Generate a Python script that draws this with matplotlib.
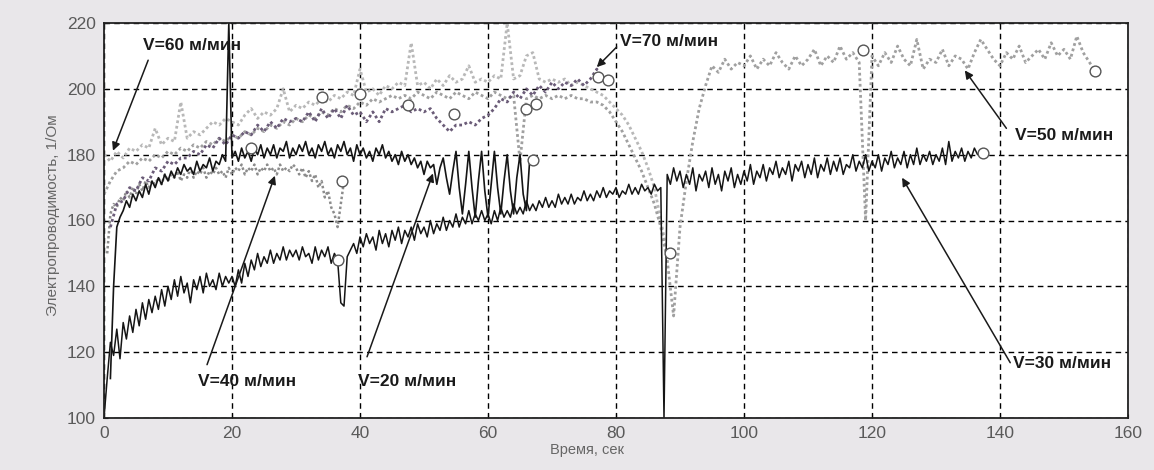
import numpy as np
import matplotlib
matplotlib.use("Agg")
import matplotlib.pyplot as plt

plt.rcParams['font.family'] = ['Liberation Sans', 'DejaVu Sans']

# V=30 м/мин, шаг 0.5 с от t=0
v30 = [100, 112, 123, 119, 127, 118, 129, 124, 131, 126, 133, 128, 135, 130, 136, 132, 137, 133, 139, 134,
       140, 136, 142, 137, 143, 138, 141, 135, 142, 139, 143, 138, 144, 140, 142, 139, 144, 140, 143, 141,
       143, 140, 145, 141, 147, 143, 148, 145, 150, 146, 149, 147, 151, 147, 150, 148, 152, 148, 151, 149,
       151, 148, 152, 149, 150, 147, 152, 148, 151, 149, 152, 147, 150, 148, 135, 134, 149, 151, 153, 150,
       155, 152, 156, 153, 155, 151, 157, 153, 156, 152, 157, 154, 158, 153, 157, 155, 158, 154, 159, 156,
       158, 155, 160, 156, 159, 157, 161, 157, 160, 158, 162, 158, 161, 159, 163, 159, 162, 160, 163, 160,
       162, 159, 163, 160, 164, 161, 163, 161, 165, 162, 164, 162, 166, 163, 165, 163, 166, 164, 167, 164,
       166, 164, 168, 165, 167, 165, 168, 165, 167, 166, 169, 166, 168, 166, 169, 167, 170, 167, 169, 168,
       170, 167, 169, 168, 171, 168, 170, 168, 171, 169, 170, 168, 171, 169, 170, 100, 174, 171, 176, 172,
       175, 170, 174, 171, 176, 169, 174, 172, 175, 170, 176, 171, 174, 169, 175, 172, 176, 170, 174, 171,
       175, 172, 177, 171, 175, 173, 177, 172, 176, 174, 178, 173, 176, 174, 178, 172, 177, 175, 178, 173,
       177, 174, 179, 173, 177, 175, 179, 174, 178, 175, 179, 174, 177, 176, 180, 175, 178, 176, 180, 175,
       178, 176, 180, 175, 179, 177, 181, 176, 179, 177, 181, 176, 180, 177, 182, 177, 180, 178, 181, 177,
       180, 178, 182, 177, 184, 178, 181, 179, 182, 178, 181, 179, 182, 180, 181]

# V=20 м/мин, шаг 0.5 с от t=1
v20 = [112, 140, 158, 161, 163, 166, 164, 168, 166, 169,
       167, 171, 168, 172, 170, 173, 171, 174, 172, 175, 173, 176, 174, 177, 175, 176, 174, 178, 175, 177,
       176, 179, 175, 178, 177, 180, 178, 220, 179, 181, 178, 182, 179, 181, 178, 182, 180, 183, 179, 182,
       180, 183, 179, 182, 181, 184, 179, 182, 180, 183, 181, 184, 180, 182, 179, 183, 181, 184, 180, 182,
       179, 183, 181, 184, 180, 182, 178, 183, 180, 182, 179, 181, 178, 182, 180, 183, 179, 181, 178, 180,
       177, 181, 178, 180, 177, 179, 176, 178, 174, 178, 176, 177, 171, 176, 179, 173, 168, 175, 181, 170,
       162, 171, 181, 170, 161, 172, 181, 169, 161, 171, 181, 170, 162, 172, 180, 169, 162, 173, 180, 168,
       163, 178]

# V=40 м/мин, шаг 0.5 с от t=0.5
v40 = [150, 162, 165, 164, 167, 166, 169, 167, 170, 168, 171, 169, 172, 170, 172, 171, 173, 171, 174,
       172, 174, 173, 175, 172, 174, 173, 176, 173, 175, 174, 176, 173, 175, 174, 176, 174, 175, 173, 176,
       174, 176, 175, 177, 174, 176, 175, 177, 174, 176, 175, 177, 175, 176, 174, 177, 175, 176, 175, 177,
       176, 174, 176, 173, 175, 172, 174, 170, 172, 167, 169, 164, 162, 158, 165, 172]

# V=70 м/мин, шаг 1 с от t=1
v70 = [158, 165, 166, 170, 169, 173, 172, 176, 175, 178,
       177, 179, 179, 181, 180, 183, 182, 185, 183, 186,
       185, 187, 186, 189, 187, 190, 188, 191, 190, 191,
       190, 193, 190, 194, 191, 194, 191, 195, 192, 193,
       190, 193, 190, 194, 193, 194, 195, 193, 194, 193,
       194, 191, 189, 187, 189, 189, 190, 189, 191, 192,
       194, 197, 196, 199, 197, 200, 198, 201, 199, 202,
       200, 202, 201, 203, 201, 203, 206, 203]

# V=60 м/мин, шаг 1 с от t=0
v60 = [180, 178, 181, 179, 182, 181, 183, 182, 188, 183,
       185, 184, 196, 185, 187, 186, 188, 190, 189, 191,
       190, 189, 192, 194, 191, 193, 192, 194, 200, 193,
       195, 194, 196, 195, 197, 196, 198, 197, 199, 198,
       206, 199, 200, 198, 201, 200, 202, 201, 214, 201,
       202, 200, 203, 201, 204, 202, 203, 207, 202, 203,
       202, 204, 203, 220, 203, 204, 210, 211, 203, 202,
       203, 202, 203, 201, 202, 201, 200, 199, 198, 196,
       194, 192, 189, 185, 181, 176, 170, 160, 150]

# V=50 м/мин, шаг 1 с от t=0
v50 = [168, 172, 175, 176, 178, 177, 179, 178, 180, 179,
       181, 180, 182, 181, 183, 182, 184, 183, 185, 184,
       186, 185, 187, 186, 188, 187, 189, 188, 190, 189,
       191, 190, 192, 191, 193, 192, 194, 193, 195, 194,
       196, 195, 197, 196, 197, 198, 197, 198, 197, 199,
       198, 197, 199, 198, 197, 199, 198, 197, 199, 198,
       197, 199, 198, 197, 198, 178, 197, 198, 197, 198,
       197, 198, 197, 198, 197, 197, 196, 196, 195, 193,
       190, 187, 183, 179, 175, 170, 165, 158, 148, 131,
       158, 172, 184, 194, 201, 207, 205, 209, 206, 208,
       207, 210, 206, 209, 207, 211, 208, 206, 210, 207,
       209, 212, 207, 210, 208, 213, 209, 211, 208, 160,
       210, 207, 211, 208, 213, 209, 207, 215, 206, 209,
       208, 212, 207, 210, 209, 206, 211, 215, 212, 209,
       207, 211, 209, 213, 208, 210, 212, 209, 214, 210,
       212, 209, 216, 211, 208, 205]

t30 = 0.5 * np.arange(len(v30))
t20 = 1.0 + 0.5 * np.arange(len(v20))
t40 = 0.5 + 0.5 * np.arange(len(v40))
t70 = 1.0 + np.arange(len(v70))
t60 = np.arange(len(v60))
t50 = np.arange(len(v50))

# кружки-метки на кривых
circ_t = [23, 34, 37.2, 36.6, 40, 47.5, 54.7, 66, 67.5, 67, 77.2, 78.8, 88.4, 118.6, 137.4, 154.8]
circ_v = [182, 197.4, 172, 148, 198.5, 195, 192.5, 194, 195.5, 178.5, 203.5, 202.6, 150, 211.8, 180.6, 205.5]

# подписи: текст, положение текста, начало и конец стрелки
labels = ["V=60 м/мин", "V=70 м/мин", "V=50 м/мин", "V=30 м/мин", "V=40 м/мин", "V=20 м/мин"]
text_xy = [(6.1, 213.3), (80.6, 214.3), (142.3, 185.8), (142.0, 116.5), (14.7, 111.0), (39.7, 111.0)]
arr_from = [(6.9, 208.7), (80.1, 212.7), (141.0, 188.0), (141.6, 116.8), (16.1, 116.2), (41.1, 118.6)]
arr_to = [(1.4, 181.2), (77.0, 206.6), (134.5, 205.6), (124.7, 173.0), (26.7, 173.6), (51.4, 174.3)]

fig = plt.figure(figsize=(11.54, 4.70), dpi=100, facecolor="#e9e7ea")
ax = fig.add_axes([104/1154, 1 - 418/470, 1024/1154, 395/470])
ax.set_facecolor("white")

dots = (0, (1, 1))
ax.plot(t60, v60, color="#b8b8b8", lw=2.0, ls=dots)
ax.plot(t50, v50, color="#a0a0a0", lw=2.0, ls=dots)
ax.plot(t40, v40, color="#8c8c8c", lw=1.8, ls=dots)
ax.plot(t70, v70, color="#6b5c78", lw=2.0, ls=dots)
ax.plot(t30, v30, color="#151515", lw=1.1)
ax.plot(t20, v20, color="#151515", lw=1.2)
ax.scatter(circ_t, circ_v, s=60, facecolors="white", edgecolors="#555555", linewidths=1.0, zorder=5)

for lab, txy, a0, a1 in zip(labels, text_xy, arr_from, arr_to):
    ax.text(txy[0], txy[1], lab, fontsize=12.5, fontweight="bold", color="#1a1a1a",
            ha="left", va="center", zorder=6)
    ax.annotate("", xy=a1, xytext=a0,
                arrowprops=dict(arrowstyle="-|>", color="#1a1a1a", lw=1.1,
                                mutation_scale=12, shrinkA=0, shrinkB=0), zorder=6)

ax.set_xlim(0, 160)
ax.set_ylim(100, 220)
ax.set_xticks(np.arange(0, 161, 20))
ax.set_yticks(np.arange(100, 221, 20))
ax.grid(True, color="black", ls=(0, (4, 3)), lw=1.0)
ax.tick_params(direction="in", length=3, labelsize=12.5, labelcolor="#5a5a5a", pad=6)
for s in ax.spines.values():
    s.set_linewidth(1.3)
    s.set_color("#222222")

ax.set_xlabel("Время, сек", fontsize=10.5, color="#666666")
ax.xaxis.set_label_coords(0.472, -0.063)
ax.set_ylabel("Электропроводимость, 1/Ом", fontsize=11, color="#666666")
ax.yaxis.set_label_coords(-0.043, 0.514)

fig.savefig("out.png", dpi=100, facecolor=fig.get_facecolor())
